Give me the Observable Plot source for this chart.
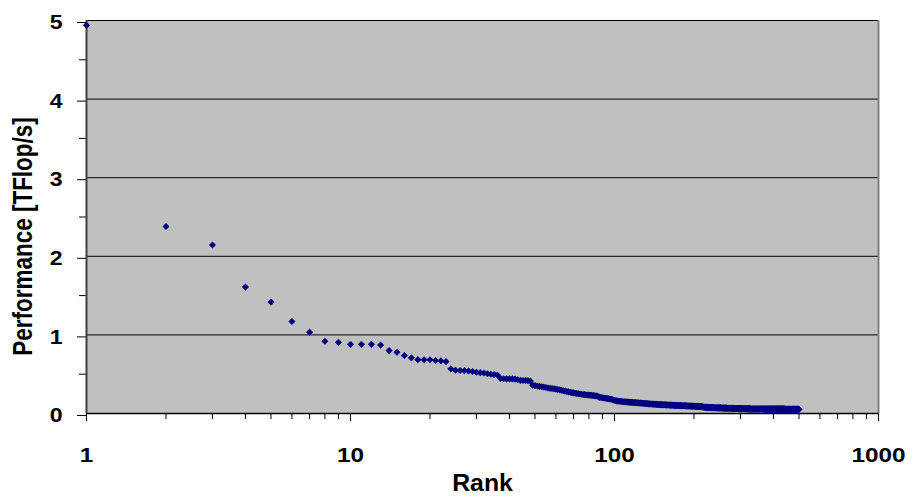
<!DOCTYPE html>
<html>
<head>
<meta charset="utf-8">
<script src="https://cdn.jsdelivr.net/npm/d3@7"></script>
<script src="https://cdn.jsdelivr.net/npm/@observablehq/plot@0.6"></script>
<style>
  html, body { margin: 0; padding: 0; background: #fff; }
</style>
</head>
<body>
<div id="chart"></div>
<script>
// Performance (TFlop/s) by rank 1..500
const perf = [
  4.938,2.379,2.144,1.608,1.417,1.170,1.035,0.920,0.905,0.880,
  0.880,0.880,0.870,0.800,0.780,0.738,0.708,0.685,0.683,0.683,
  0.675,0.670,0.660,0.568,0.550,0.547,0.545,0.540,0.535,0.525,
  0.520,0.515,0.505,0.500,0.495,0.490,0.445,0.443,0.440,0.440,
  0.440,0.438,0.430,0.422,0.420,0.420,0.418,0.412,0.360,0.355,
  0.350,0.345,0.340,0.335,0.330,0.325,0.320,0.318,0.315,0.310,
  0.305,0.300,0.295,0.290,0.285,0.280,0.275,0.270,0.265,0.262,
  0.258,0.255,0.252,0.248,0.245,0.242,0.240,0.238,0.236,0.234,
  0.232,0.230,0.228,0.226,0.224,0.222,0.212,0.205,0.203,0.200,
  0.198,0.195,0.192,0.190,0.188,0.185,0.182,0.178,0.172,0.168,
  0.162,0.160,0.158,0.156,0.155,0.153,0.152,0.150,0.149,0.148,
  0.147,0.146,0.145,0.144,0.143,0.142,0.141,0.140,0.139,0.138,
  0.137,0.136,0.135,0.134,0.133,0.132,0.131,0.130,0.129,0.128,
  0.127,0.126,0.125,0.124,0.123,0.122,0.121,0.120,0.120,0.119,
  0.118,0.118,0.117,0.116,0.116,0.115,0.115,0.114,0.114,0.113,
  0.113,0.112,0.112,0.111,0.111,0.110,0.110,0.109,0.109,0.108,
  0.108,0.107,0.107,0.106,0.106,0.105,0.105,0.104,0.104,0.103,
  0.103,0.102,0.102,0.102,0.101,0.101,0.100,0.100,0.100,0.099,
  0.099,0.099,0.098,0.098,0.098,0.097,0.097,0.097,0.096,0.096,
  0.096,0.095,0.095,0.095,0.094,0.094,0.094,0.093,0.093,0.092,
  0.092,0.092,0.091,0.091,0.090,0.090,0.090,0.089,0.089,0.088,
  0.088,0.088,0.087,0.087,0.086,0.085,0.082,0.080,0.080,0.079,
  0.079,0.079,0.078,0.078,0.078,0.077,0.077,0.077,0.076,0.076,
  0.076,0.076,0.075,0.075,0.075,0.075,0.074,0.074,0.074,0.074,
  0.073,0.073,0.073,0.073,0.072,0.072,0.072,0.072,0.071,0.071,
  0.071,0.071,0.070,0.070,0.070,0.070,0.070,0.069,0.069,0.069,
  0.069,0.069,0.068,0.068,0.068,0.068,0.068,0.067,0.067,0.067,
  0.067,0.067,0.066,0.066,0.066,0.066,0.066,0.066,0.065,0.065,
  0.065,0.065,0.065,0.065,0.064,0.064,0.064,0.064,0.064,0.064,
  0.063,0.063,0.063,0.063,0.063,0.063,0.062,0.062,0.062,0.062,
  0.062,0.062,0.062,0.061,0.061,0.061,0.061,0.061,0.061,0.061,
  0.060,0.060,0.060,0.060,0.060,0.060,0.060,0.060,0.059,0.059,
  0.059,0.059,0.059,0.059,0.059,0.059,0.059,0.058,0.058,0.058,
  0.058,0.058,0.058,0.058,0.058,0.058,0.058,0.058,0.058,0.058,
  0.058,0.058,0.058,0.057,0.057,0.057,0.057,0.057,0.057,0.057,
  0.057,0.057,0.057,0.057,0.057,0.057,0.057,0.057,0.057,0.057,
  0.057,0.057,0.057,0.057,0.057,0.057,0.057,0.057,0.057,0.057,
  0.056,0.056,0.056,0.056,0.056,0.056,0.056,0.056,0.056,0.056,
  0.056,0.056,0.056,0.056,0.056,0.056,0.056,0.056,0.056,0.056,
  0.056,0.056,0.056,0.056,0.056,0.056,0.056,0.056,0.056,0.056,
  0.056,0.056,0.056,0.056,0.056,0.056,0.056,0.056,0.056,0.056,
  0.056,0.056,0.056,0.056,0.056,0.056,0.056,0.056,0.056,0.056,
  0.056,0.056,0.056,0.056,0.056,0.056,0.056,0.056,0.056,0.056,
  0.056,0.056,0.056,0.056,0.056,0.056,0.056,0.056,0.056,0.056,
  0.055,0.055,0.055,0.055,0.055,0.055,0.055,0.055,0.055,0.055,
  0.055,0.055,0.055,0.055,0.055,0.055,0.055,0.055,0.055,0.055,
  0.055,0.055,0.055,0.055,0.055,0.055,0.055,0.055,0.055,0.055,
  0.055,0.055,0.055,0.055,0.055,0.055,0.055,0.055,0.055,0.055,
  0.055,0.055,0.055,0.055,0.055,0.055,0.055,0.055,0.055,0.055,
  0.055,0.055,0.055,0.055,0.055,0.055,0.055,0.055,0.055,0.055
];

const xMajorTicks = [1, 10, 100, 1000];
const xMinorTicks = [2,3,4,5,6,7,8,9,20,30,40,50,60,70,80,90,200,300,400,500,600,700,800,900];
const yMajorTicks = [0, 1, 2, 3, 4, 5];
const yMinorTicks = [0.5, 1.5, 2.5, 3.5, 4.5];
const xTitle = "Rank";
const yTitle = "Performance [TFlop/s]";

const data = perf.map((v, i) => ({rank: i + 1, perf: v}));

const font = "'Liberation Sans', Arial, Helvetica, sans-serif";

const chart = Plot.plot({
  width: 912,
  height: 496,
  marginLeft: 86,
  marginRight: 34,
  marginTop: 20,
  marginBottom: 83,
  style: {fontFamily: font, fontWeight: "bold", fontSize: "20px", background: "#ffffff", color: "#000000", overflow: "visible"},
  x: {type: "log", domain: [1, 1000]},
  y: {domain: [0, 5]},
  marks: [
    Plot.frame({fill: "#C0C0C0", stroke: null}),
    Plot.gridY(yMajorTicks, {stroke: "#000000", strokeOpacity: 1, strokeWidth: 1}),
    Plot.ruleX([1000], {stroke: "#808080", strokeWidth: 2}),
    Plot.axisX(xMinorTicks, {tickSize: 6, text: null, label: null, stroke: "#000"}),
    Plot.axisX(xMajorTicks, {tickSize: 8, tickPadding: 26, tickFormat: d => String(d), label: null, fontSize: 21, fontWeight: "bold"}),
    Plot.axisY(yMinorTicks, {tickSize: 7, text: null, label: null}),
    Plot.axisY(yMajorTicks, {tickSize: 9, tickPadding: 15, tickFormat: d => String(d), label: null, fontSize: 21, fontWeight: "bold", dy: 2}),
    Plot.ruleY([0], {stroke: "#000000", strokeWidth: 1.5}),
    Plot.ruleX([1], {stroke: "#404040", strokeWidth: 2}),
    Plot.dot(data, {x: "rank", y: "perf", symbol: "diamond2", r: 3.2, fill: "#000080", stroke: null}),
    Plot.text([xTitle], {text: d => d, frameAnchor: "bottom", dy: 70.5, lineAnchor: "middle", fontSize: 23, fontWeight: "bold"}),
    Plot.text([yTitle], {text: d => d, frameAnchor: "left", rotate: -90, dx: -64, dy: 19.5, lineAnchor: "middle", textAnchor: "middle", fontSize: 22.5, fontWeight: "bold"})
  ]
});

// The original chart's lettering is slightly stretched horizontally
function stretch(selector, sx, sy) {
  chart.querySelectorAll(selector).forEach(t => {
    const tr = t.getAttribute("transform");
    if (tr) {
      t.setAttribute("transform", tr + ` scale(${sx},${sy})`);
    } else {
      const x = +t.getAttribute("x") || 0, y = +t.getAttribute("y") || 0;
      t.removeAttribute("x"); t.removeAttribute("y");
      t.setAttribute("transform", `translate(${x},${y}) scale(${sx},${sy})`);
    }
  });
}
stretch('g[aria-label="x-axis tick label"] text', 1.16, 1);
stretch('g[aria-label="y-axis tick label"] text', 1.1, 1);
const textGroups = chart.querySelectorAll('g[aria-label="text"]');
if (textGroups.length >= 2) {
  textGroups[0].querySelectorAll("text").forEach(t => t.setAttribute("transform", (t.getAttribute("transform") || "") + " scale(1.08,1)"));
  textGroups[1].querySelectorAll("text").forEach(t => t.setAttribute("transform", (t.getAttribute("transform") || "") + " scale(1,1.25)"));
}

document.getElementById("chart").appendChild(chart);
</script>
</body>
</html>
